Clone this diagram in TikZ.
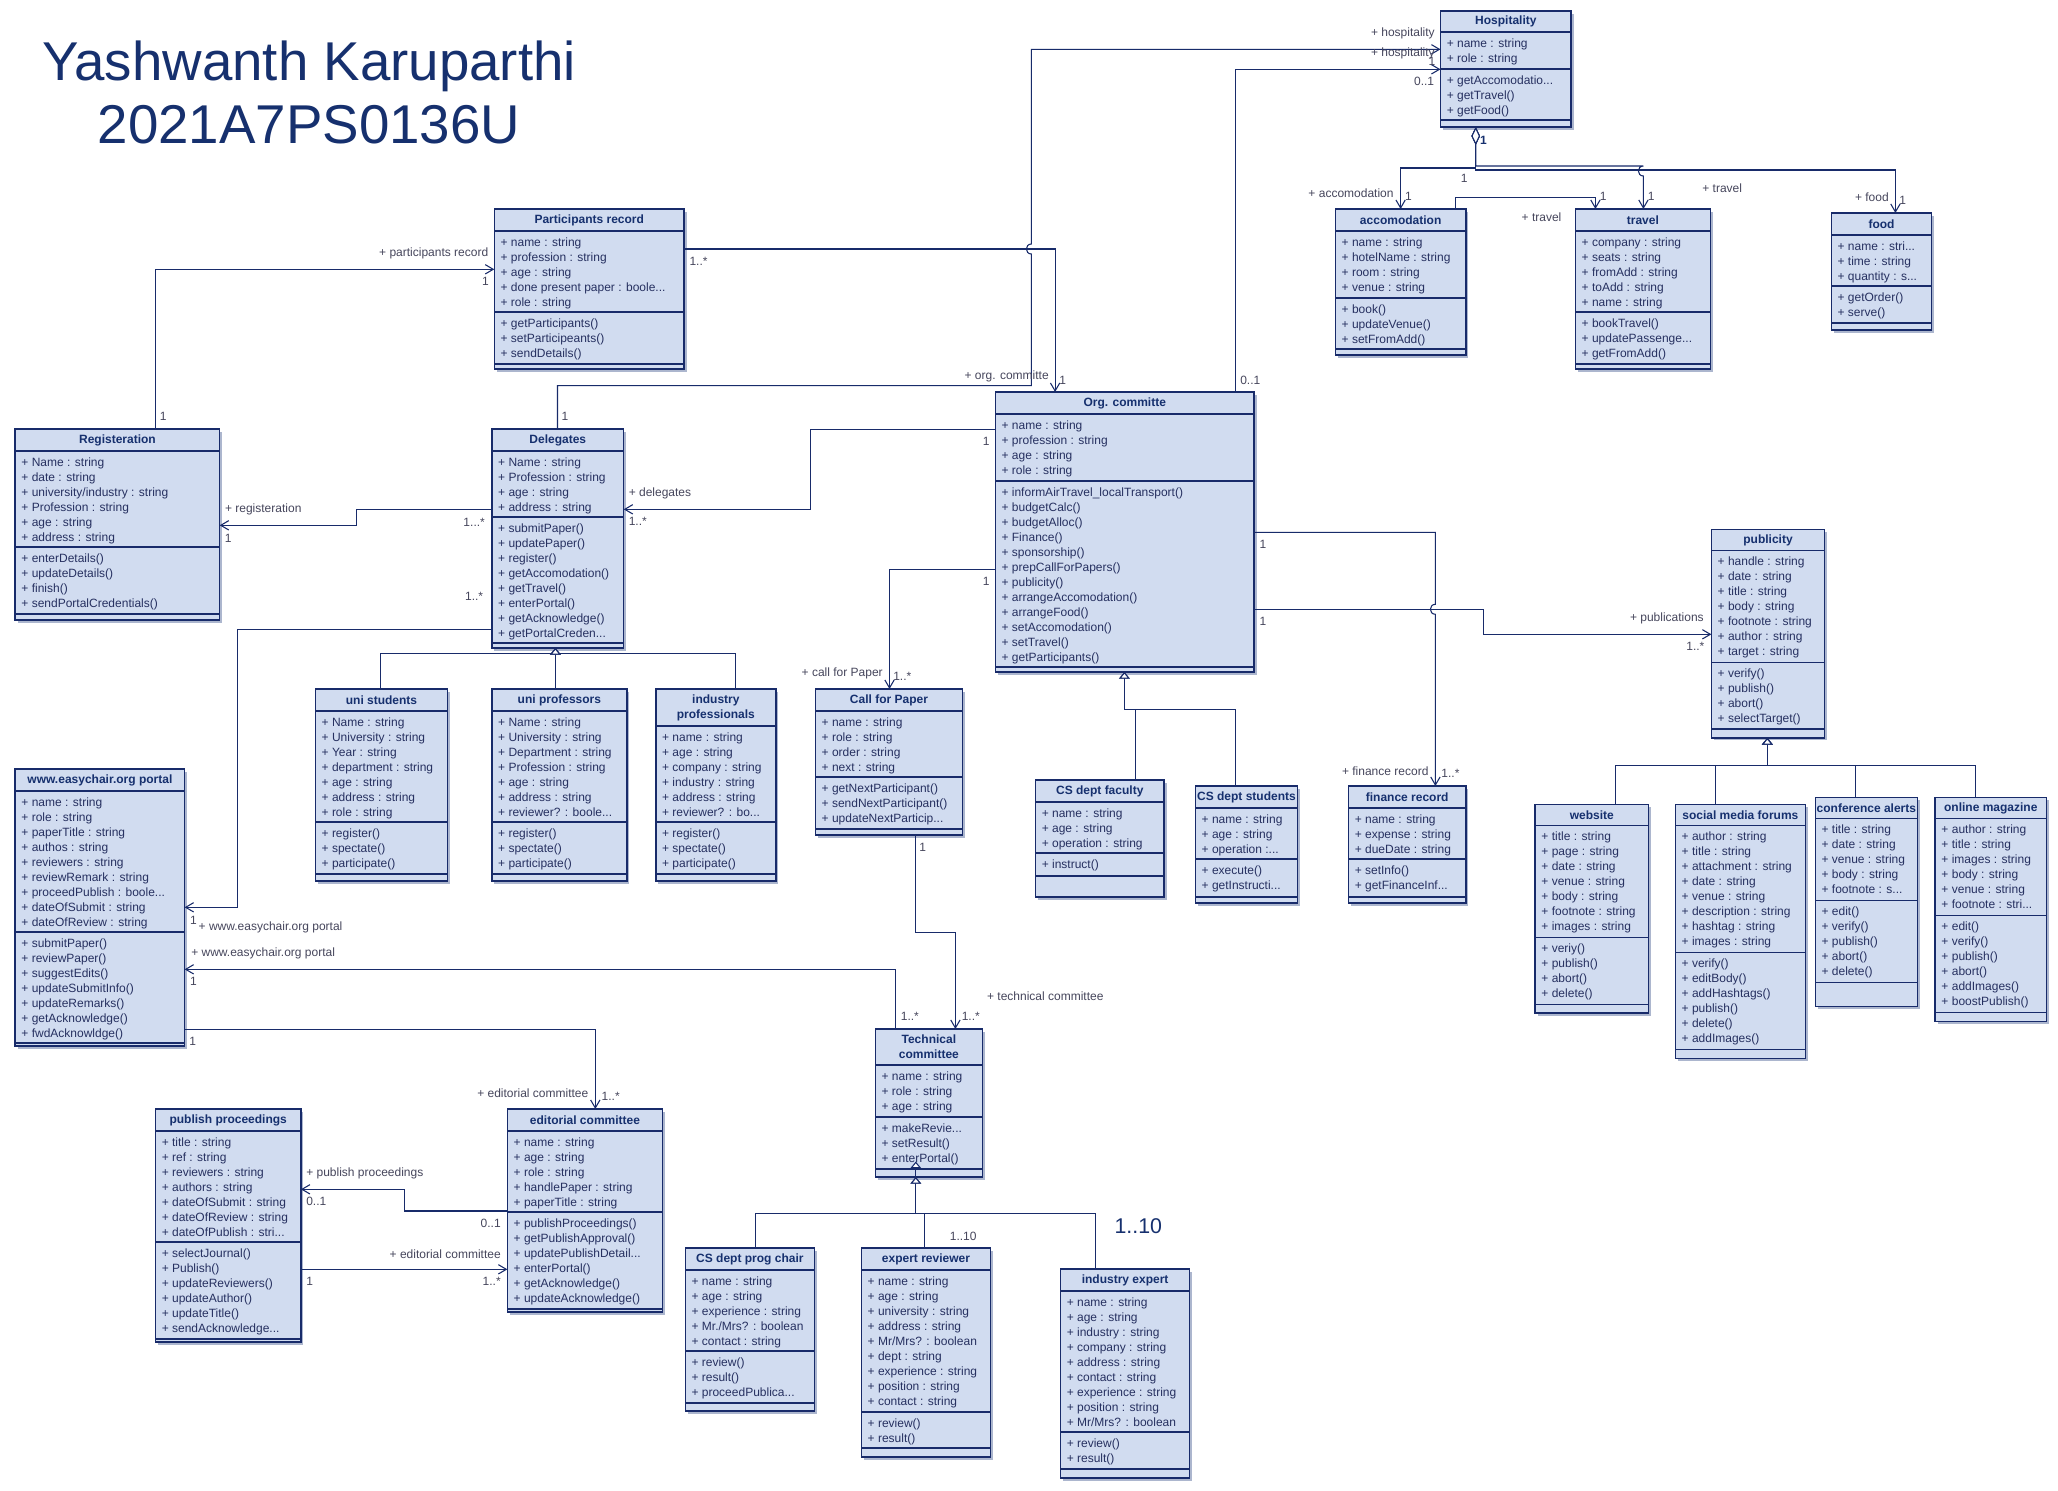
\documentclass[tikz,border=0pt]{standalone}
\usepackage{fontspec}
\setmainfont{Liberation Sans}
\usetikzlibrary{arrows.meta,fit}
\definecolor{umlfill}{RGB}{209,220,240}
\definecolor{umlline}{RGB}{24,43,106}
\definecolor{umltext}{RGB}{38,48,96}
\definecolor{lblcol}{RGB}{70,70,92}
\definecolor{titlecol}{RGB}{22,48,110}
\definecolor{shadowc}{RGB}{172,182,206}
\def\umlparse#1/#2/#3/#4/#5/#6/#7\relax{\def\uxl{#1}\def\uxr{#2}\def\uya{#3}\def\uyb{#4}\def\uyc{#5}\def\uyd{#6}\def\uye{#7}}
\newcommand{\umlclass}[5]{%
  \umlparse#2\relax
  \fill[shadowc] (\uxl+2.5,\uya+2.5) rectangle (\uxr+2.5,\uye+2.5);
  \draw[umlbox] (\uxl,\uya) rectangle (\uxr,\uye);
  \draw[umlsep] (\uxl,\uyb) -- (\uxr,\uyb) (\uxl,\uyc) -- (\uxr,\uyc) (\uxl,\uyd) -- (\uxr,\uyd);
  \node[umltitle] (#1-t) at ({(\uxl+\uxr)/2},{(\uya+\uyb)/2}) {#3};
  \node[umlrows] (#1-a) at (\uxl+6,\uyb+4.5) {\strut#4};
  \node[umlrows] (#1-o) at (\uxl+6,\uyc+4.5) {\strut#5};
  \node[fit={(\uxl,\uya) (\uxr,\uye)}, inner sep=0pt, outer sep=0pt] (#1) {};
}
\begin{document}
\begin{tikzpicture}[x=0.75pt,y=-0.75pt,
  umlbox/.style={draw=umlline, fill=umlfill, line width=1.1pt},
  umlsep/.style={draw=umlline, line width=1pt},
  umltitle/.style={inner sep=0pt, align=center, text=titlecol, font=\fontsize{9}{11.25}\selectfont\bfseries},
  umlrows/.style={anchor=north west, inner sep=0pt, align=left, text=umltext, font=\fontsize{9}{11.25}\selectfont},
  lbl/.style={inner sep=0pt, text=lblcol, font=\fontsize{9}{11}\selectfont},
  bigtitle/.style={inner sep=0pt, text=titlecol, font=\fontsize{41}{47}\selectfont},
  conn/.style={draw=umlline, line width=0.8pt},
  assoc/.style={conn, -{Straight Barb[length=6pt,width=7pt]}},
  gen/.style={conn, -{Triangle[open,length=5pt,width=8pt,fill=white]}},
  agg/.style={conn, {Diamond[open,length=13.5pt,width=6.4pt,fill=white]}-{Straight Barb[length=6pt,width=7pt]}}
]
\fill[white] (0,0) rectangle (2058,1490);
\useasboundingbox (0,0) rectangle (2058,1490);

% title
\node[bigtitle, anchor=base] (title1) at (309,80) {Yashwanth Karuparthi};
\node[bigtitle, anchor=base] (title2) at (309,143) {2021A7PS0136U};

% classes
\umlclass{hosp}{1440.5/1571.2/11/32/69/120/127}{Hospitality}{+ name : string\\+ role : string}{+ getAccomodatio...\\+ getTravel()\\+ getFood()}
\umlclass{part}{494.3/684.2/209/231/312/364/369}{Participants record}{+ name : string\\+ profession : string\\+ age : string\\+ done present paper : boole...\\+ role : string}{+ getParticipants()\\+ setParticipeants()\\+ sendDetails()}
\umlclass{reg}{15.2/219.7/429/451/547/614/620}{Registeration}{+ Name : string\\+ date : string\\+ university/industry : string\\+ Profession : string\\+ age : string\\+ address : string}{+ enterDetails()\\+ updateDetails()\\+ finish()\\+ sendPortalCredentials()}
\umlclass{deleg}{491.9/623.7/429/451/517/643/648}{Delegates}{+ Name : string\\+ Profession : string\\+ age : string\\+ address : string}{+ submitPaper()\\+ updatePaper()\\+ register()\\+ getAccomodation()\\+ getTravel()\\+ enterPortal()\\+ getAcknowledge()\\+ getPortalCreden...}
\umlclass{org}{995.3/1254.2/392/414/481/667/672}{Org. committe}{+ name : string\\+ profession : string\\+ age : string\\+ role : string}{+ informAirTravel\_localTransport()\\+ budgetCalc()\\+ budgetAlloc()\\+ Finance()\\+ sponsorship()\\+ prepCallForPapers()\\+ publicity()\\+ arrangeAccomodation()\\+ arrangeFood()\\+ setAccomodation()\\+ setTravel()\\+ getParticipants()}
\umlclass{acc}{1335.4/1465.9/209/231/298/349/355}{accomodation}{+ name : string\\+ hotelName : string\\+ room : string\\+ venue : string}{+ book()\\+ updateVenue()\\+ setFromAdd()}
\umlclass{trav}{1575.4/1710.3/209/231/312/364/369}{travel}{+ company : string\\+ seats : string\\+ fromAdd : string\\+ toAdd : string\\+ name : string}{+ bookTravel()\\+ updatePassenge...\\+ getFromAdd()}
\umlclass{food}{1831.3/1931.7/213/235/286/323/330}{food}{+ name : stri...\\+ time : string\\+ quantity : s...}{+ getOrder()\\+ serve()}
\umlclass{ustu}{315.4/447.6/689/711/822/874/881}{uni students}{+ Name : string\\+ University : string\\+ Year : string\\+ department : string\\+ age : string\\+ address : string\\+ role : string}{+ register()\\+ spectate()\\+ participate()}
\umlclass{uprof}{491.9/626.8/689/711/822/874/881}{uni professors}{+ Name : string\\+ University : string\\+ Department : string\\+ Profession : string\\+ age : string\\+ address : string\\+ reviewer? : boole...}{+ register()\\+ spectate()\\+ participate()}
\umlclass{iprof}{655.8/775.9/689/726/822/874/881}{industry\\professionals}{+ name : string\\+ age : string\\+ company : string\\+ industry : string\\+ address : string\\+ reviewer? : bo...}{+ register()\\+ spectate()\\+ participate()}
\umlclass{cfp}{815.4/962.5/689/711/777/829/835}{Call for Paper}{+ name : string\\+ role : string\\+ order : string\\+ next : string}{+ getNextParticipant()\\+ sendNextParticipant()\\+ updateNextParticip...}
\umlclass{csfac}{1035.5/1164/780/802/853/876/897}{CS dept faculty}{+ name : string\\+ age : string\\+ operation : string}{+ instruct()}
\umlclass{csstu}{1195.4/1297.5/786/808/859/897/903}{CS dept students}{+ name : string\\+ age : string\\+ operation :...}{+ execute()\\+ getInstructi...}
\umlclass{fin}{1348.5/1465.9/786/808/859/897/903}{finance record}{+ name : string\\+ expense : string\\+ dueDate : string}{+ setInfo()\\+ getFinanceInf...}
\umlclass{pub}{1711.4/1824.6/529.3/550.7/662.5/728.9/737.9}{publicity}{+ handle : string\\+ date : string\\+ title : string\\+ body : string\\+ footnote : string\\+ author : string\\+ target : string}{+ verify()\\+ publish()\\+ abort()\\+ selectTarget()}
\umlclass{web}{1535.2/1648.4/804.3/825.7/937.5/1004.3/1013.2}{website}{+ title : string\\+ page : string\\+ date : string\\+ venue : string\\+ body : string\\+ footnote : string\\+ images : string}{+ veriy()\\+ publish()\\+ abort()\\+ delete()}
\umlclass{smf}{1675.4/1805.3/804.3/825.7/952.5/1049.3/1058.3}{social media forums}{+ author : string\\+ title : string\\+ attachment : string\\+ date : string\\+ venue : string\\+ description : string\\+ hashtag : string\\+ images : string}{+ verify()\\+ editBody()\\+ addHashtags()\\+ publish()\\+ delete()\\+ addImages()}
\umlclass{calert}{1815.3/1917.4/797.5/818.6/900.7/982.5/1006.3}{conference alerts}{+ title : string\\+ date : string\\+ venue : string\\+ body : string\\+ footnote : s...}{+ edit()\\+ verify()\\+ publish()\\+ abort()\\+ delete()}
\umlclass{omag}{1935.2/2046.3/797.5/818.6/915.4/1012.3/1021.3}{online magazine}{+ author : string\\+ title : string\\+ images : string\\+ body : string\\+ venue : string\\+ footnote : stri...}{+ edit()\\+ verify()\\+ publish()\\+ abort()\\+ addImages()\\+ boostPublish()}
\umlclass{portal}{15.2/184.6/769/791/932/1043/1046}{www.easychair.org portal}{+ name : string\\+ role : string\\+ paperTitle : string\\+ authos : string\\+ reviewers : string\\+ reviewRemark : string\\+ proceedPublish : boole...\\+ dateOfSubmit : string\\+ dateOfReview : string}{+ submitPaper()\\+ reviewPaper()\\+ suggestEdits()\\+ updateSubmitInfo()\\+ updateRemarks()\\+ getAcknowledge()\\+ fwdAcknowldge()}
\umlclass{tech}{875.3/982.4/1029/1065/1117/1169/1177}{Technical\\committee}{+ name : string\\+ role : string\\+ age : string}{+ makeRevie...\\+ setResult()\\+ enterPortal()}
\umlclass{edit}{507.4/662.6/1109/1131/1212/1309/1312}{editorial committee}{+ name : string\\+ age : string\\+ role : string\\+ handlePaper : string\\+ paperTitle : string}{+ publishProceedings()\\+ getPublishApproval()\\+ updatePublishDetail...\\+ enterPortal()\\+ getAcknowledge()\\+ updateAcknowledge()}
\umlclass{pubp}{155.5/300.9/1109/1131/1242/1339/1342}{publish proceedings}{+ title : string\\+ ref : string\\+ reviewers : string\\+ authors : string\\+ dateOfSubmit : string\\+ dateOfReview : string\\+ dateOfPublish : stri...}{+ selectJournal()\\+ Publish()\\+ updateReviewers()\\+ updateAuthor()\\+ updateTitle()\\+ sendAcknowledge...}
\umlclass{chair}{685.3/814.4/1248/1270/1351/1403/1411}{CS dept prog chair}{+ name : string\\+ age : string\\+ experience : string\\+ Mr./Mrs? : boolean\\+ contact : string}{+ review()\\+ result()\\+ proceedPublica...}
\umlclass{expr}{861.4/990.5/1248/1270/1412/1448/1457}{expert reviewer}{+ name : string\\+ age : string\\+ university : string\\+ address : string\\+ Mr/Mrs? : boolean\\+ dept : string\\+ experience : string\\+ position : string\\+ contact : string}{+ review()\\+ result()}
\umlclass{iexp}{1060.5/1189.7/1269/1291/1432/1469/1478}{industry expert}{+ name : string\\+ age : string\\+ industry : string\\+ company : string\\+ address : string\\+ contact : string\\+ experience : string\\+ position : string\\+ Mr/Mrs? : boolean}{+ review()\\+ result()}

% ---------- associations ----------
\draw[assoc] (reg.north -| 155.5,0) |- (part.west |- 0,269.3);
\draw[assoc] (deleg.west |- 0,509.3) -| (356.3,525.3) -- (reg.east |- 0,525.3);
\draw[assoc] (deleg.west |- 0,629.3) -| (237.3,907.3) -- (portal.east |- 0,907.3);
\draw[assoc] (tech.north -| 895.5,0) |- (portal.east |- 0,969.3);
\draw[assoc] (cfp.south -| 915.8,0) |- (955.4,932.3) -- (tech.north -| 955.4,0);
\draw[assoc] (portal.east |- 0,1029.3) -| (edit.north -| 595.3,0);
\draw[assoc] (edit.west |- 0,1211) -| (404.7,1189.3) -- (pubp.east |- 0,1189.3);
\draw[assoc] (pubp.east |- 0,1269.3) -- (edit.west |- 0,1269.3);
\draw[assoc] (org.west |- 0,429.3) -| (810.3,509.3) -- (deleg.east |- 0,509.3);
\draw[assoc] (org.west |- 0,569.3) -| (cfp.north -| 889.5,0);
\draw[assoc] (part.east |- 0,249) -| (org.north -| 1055.1,0);
\draw[assoc] (deleg.north -| 557.5,0) |- (1031.4,385.7) -- (1031.4,254) .. controls (1024.7,254) and (1024.7,244) .. (1031.4,244) |- (hosp.west |- 0,49.3);
\draw[assoc] (org.north -| 1235.3,0) |- (hosp.west |- 0,69.3);
\draw[agg] (hosp.south -| 1475.7,0) -- (1475.7,168) -| (acc.north -| 1400.6,0);
\draw[agg] (hosp.south -| 1475.7,0) -- (1475.7,170) -| (food.north -| 1895.4,0);
\draw[agg] (hosp.south -| 1475.7,0) -- (1475.7,166) -- (1643.4,166) .. controls (1636.7,166) and (1636.7,176) .. (1643.4,176) -- (trav.north -| 1643.4,0);
\draw[assoc] (acc.north -| 1455.4,0) |- (1595.4,197.3) -- (trav.north -| 1595.4,0);
\draw[assoc] (org.east |- 0,609.3) -- (1483.4,609.3) |- (pub.west |- 0,634.3);
\draw[assoc] (org.east |- 0,532.3) -| (1435.4,604.3) .. controls (1428.7,604.3) and (1428.7,614.3) .. (1435.4,614.3) -- (fin.north -| 1435.4,0);

% ---------- generalizations ----------
\draw[gen] (ustu.north -| 380.3,0) |- (555.4,653.3) -- (deleg.south -| 555.4,0);
\draw[gen] (uprof.north -| 555.4,0) -- (deleg.south -| 555.4,0);
\draw[gen] (iprof.north -| 735.3,0) |- (555.4,653.3) -- (deleg.south -| 555.4,0);
\draw[gen] (csfac.north -| 1135.2,0) |- (1124.4,709.3) -- (org.south -| 1124.4,0);
\draw[gen] (csstu.north -| 1235.3,0) |- (1124.4,709.3) -- (org.south -| 1124.4,0);
\draw[gen] (web.north -| 1615.3,0) |- (1767.3,765.7) -- (pub.south -| 1767.3,0);
\draw[gen] (smf.north -| 1715.3,0) |- (1767.3,765.7) -- (pub.south -| 1767.3,0);
\draw[gen] (calert.north -| 1855.5,0) |- (1767.3,765.7) -- (pub.south -| 1767.3,0);
\draw[gen] (omag.north -| 1975.4,0) |- (1767.3,765.7) -- (pub.south -| 1767.3,0);
\draw[gen] (iexp.north -| 1095.3,0) |- (915.8,1213.3) -- (915.8,1161.5);
\draw[gen] (chair.north -| 755.2,0) |- (915.8,1213.3) -- (tech.south -| 915.8,0);
\draw[gen] (expr.north -| 924.3,0) |- (915.8,1213.3) -- (tech.south -| 915.8,0);

% ---------- labels ----------
\node[lbl, anchor=east] (la1) at (488.5,253.7) {+ participants record};
\node[lbl] (la2) at (485.5,281.7) {1};
\node[lbl] (la3) at (163.3,416.7) {1};
\node[lbl, anchor=west] (lb1) at (224.8,509.7) {+ registeration};
\node[lbl, anchor=west] (lb2) at (224.5,538) {1};
\node[lbl, anchor=east] (lb3) at (485.1,522) {1...*};
\node[lbl, anchor=east] (lc1) at (483.4,596.7) {1..*};
\node[lbl] (lc2) at (193.4,920) {1};
\node[lbl, anchor=west] (lc3) at (198.4,927.7) {+ www.easychair.org portal};
\node[lbl, anchor=west] (ld1) at (191,953.3) {+ www.easychair.org portal};
\node[lbl] (ld2) at (193.4,981.7) {1};
\node[lbl, anchor=west] (ld3) at (900.6,1016) {1..*};
\node[lbl] (le1) at (922.6,847.7) {1};
\node[lbl, anchor=west] (le2) at (961.5,1016) {1..*};
\node[lbl, anchor=west] (le3) at (986.8,996) {+ technical committee};
\node[lbl] (lf1) at (192.7,1041.7) {1};
\node[lbl, anchor=east] (lf2) at (588.6,1093.3) {+ editorial committee};
\node[lbl, anchor=west] (lf3) at (601.4,1096.7) {1..*};
\node[lbl, anchor=west] (lg1) at (306,1173.7) {+ publish proceedings};
\node[lbl, anchor=west] (lg2) at (306,1201.7) {0..1};
\node[lbl, anchor=east] (lg3) at (501,1223.7) {0..1};
\node[lbl, anchor=east] (lh1) at (501,1253.7) {+ editorial committee};
\node[lbl, anchor=west] (lh2) at (306,1281.7) {1};
\node[lbl, anchor=east] (lh3) at (501,1281.7) {1..*};
\node[lbl] (lk1) at (986.1,441.7) {1};
\node[lbl, anchor=west] (lk2) at (628.5,493.3) {+ delegates};
\node[lbl, anchor=west] (lk3) at (628.5,521.7) {1..*};
\node[lbl] (ll1) at (986.1,581.7) {1};
\node[lbl, anchor=east] (ll2) at (883,673.7) {+ call for Paper};
\node[lbl, anchor=west] (ll3) at (893,676.7) {1..*};
\node[lbl, anchor=west] (lm1) at (689.3,261.7) {1..*};
\node[lbl, anchor=west] (lm2) at (1059,380) {1};
\node[lbl, anchor=east] (lm3) at (1049,376.7) {+ org. committe};
\node[lbl] (ln1) at (564.9,416.7) {1};
\node[lbl, anchor=east] (ln2) at (1435,33.3) {+ hospitality};
\node[lbl] (ln3) at (1432,61.7) {1};
\node[lbl, anchor=west] (lo1) at (1240,380) {0..1};
\node[lbl, anchor=east] (lo2) at (1435,53.3) {+ hospitality};
\node[lbl, anchor=east] (lo3) at (1434.4,81.7) {0..1};
\node[lbl, font=\fontsize{9}{11}\selectfont\bfseries, text=titlecol] (lp0) at (1483.4,140.3) {1};
\node[lbl] (lp1) at (1464.2,178.7) {1};
\node[lbl, anchor=east] (lp2) at (1393.8,193.3) {+ accomodation};
\node[lbl] (lp3) at (1408.4,196.7) {1};
\node[lbl] (lp4) at (1651.2,196.7) {1};
\node[lbl, anchor=west] (lp5) at (1702.1,188.7) {+ travel};
\node[lbl, anchor=east] (lp6) at (1889,197.3) {+ food};
\node[lbl] (lp7) at (1902.8,200.7) {1};
\node[lbl, anchor=west] (lq1) at (1521.4,217.3) {+ travel};
\node[lbl] (lq2) at (1603.2,196.7) {1};
\node[lbl] (lr1) at (1263,621.7) {1};
\node[lbl, anchor=east] (lr2) at (1704,618.6) {+ publications};
\node[lbl, anchor=east] (lr3) at (1704.6,646.8) {1..*};
\node[lbl] (ls1) at (1263,544.7) {1};
\node[lbl, anchor=east] (ls2) at (1428.7,770.7) {+ finance record};
\node[lbl, anchor=west] (ls3) at (1441.2,773.3) {1..*};
\node[lbl, anchor=west] (lt1) at (949.6,1236.7) {1..10};
\node[lbl, text=titlecol, font=\fontsize{16}{18}\selectfont] (lt2) at (1138.3,1225.7) {1..10};
\end{tikzpicture}
\end{document}
